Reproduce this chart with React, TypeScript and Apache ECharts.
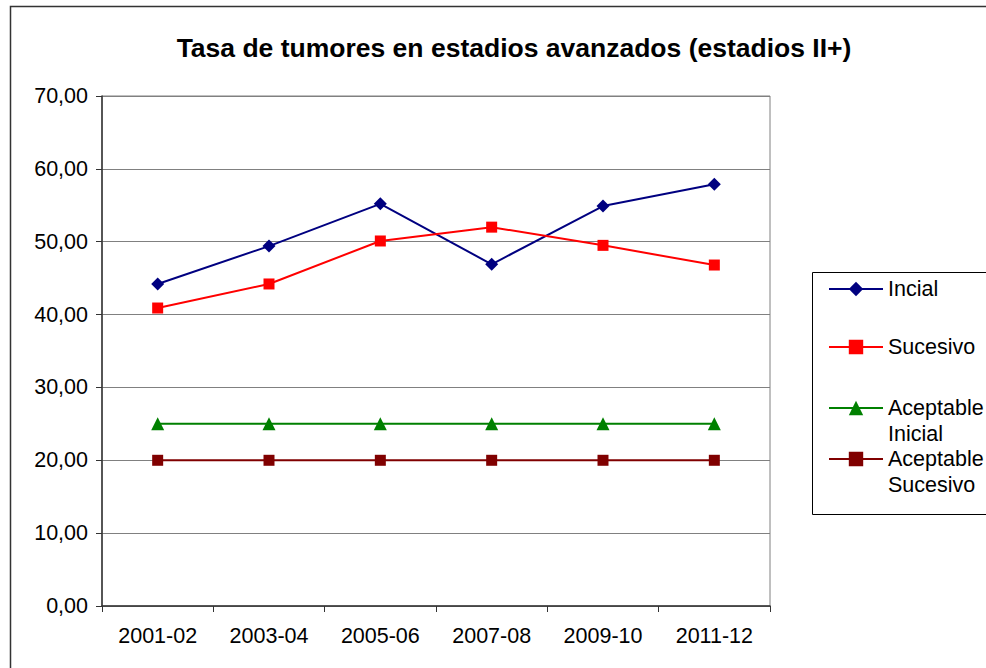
import React, { useEffect, useRef } from "react";
import * as echarts from "echarts";

const categories = ["2001-02", "2003-04", "2005-06", "2007-08", "2009-10", "2011-12"];
const inicial = [44.2, 49.4, 55.2, 46.9, 54.9, 57.9];
const sucesivo = [40.9, 44.2, 50.1, 52.0, 49.5, 46.8];
const aceptableInicial = [25, 25, 25, 25, 25, 25];
const aceptableSucesivo = [20, 20, 20, 20, 20, 20];
const seriesNames = ["Incial", "Sucesivo", "Aceptable Inicial", "Aceptable Sucesivo"];
const titleText = "Tasa de tumores en estadios avanzados (estadios II+)";

const FONT = "'Liberation Sans', Arial, sans-serif";

export default function App() {
  const ref = useRef<HTMLDivElement>(null);
  useEffect(() => {
    if (!ref.current) return;
    const chart = echarts.init(ref.current, null, { renderer: "svg" });
    const colors = ["#000080", "#FF0000", "#008000", "#800000"];
    const symbols = ["diamond", "rect", "triangle", "rect"];
    const sizes = [13, 11, 13, 11];
    const datas = [inicial, sucesivo, aceptableInicial, aceptableSucesivo];
    const rowY = [289, 347, 408, 459];
    const legends = seriesNames.map((n, i) => ({
      data: [n],
      left: 828,
      top: rowY[i] - 11,
      orient: "vertical",
      itemWidth: 54,
      itemHeight: 18,
      padding: 0,
      selectedMode: false,
      formatter: (name: string) => (name.startsWith("Aceptable") ? "Aceptable" : name),
      textStyle: { fontSize: 21.5, lineHeight: 22, fontFamily: FONT, color: "#000" },
    }));
    chart.setOption({
      animation: false,
      backgroundColor: "#fff",
      title: {
        text: titleText,
        left: 509,
        top: 29,
        textAlign: "center",
        textStyle: { fontSize: 26.5, fontWeight: "bold", fontFamily: FONT, color: "#000" },
      },
      legend: legends,
      grid: {
        left: 102,
        top: 96,
        right: 216,
        bottom: 62,
        show: true,
        borderColor: "#808080",
        borderWidth: 1,
      },
      xAxis: {
        type: "category",
        data: categories,
        boundaryGap: true,
        axisLine: { lineStyle: { color: "#333", width: 1.5 } },
        axisTick: { show: true, length: 6, lineStyle: { color: "#333" } },
        axisLabel: { fontSize: 21.5, fontFamily: FONT, color: "#000", margin: 19 },
      },
      yAxis: {
        type: "value",
        min: 0,
        max: 70,
        interval: 10,
        axisLine: { show: true, lineStyle: { color: "#333", width: 1.5 } },
        axisTick: { show: true, length: 6, lineStyle: { color: "#333" } },
        axisLabel: {
          fontSize: 21.5,
          fontFamily: FONT,
          color: "#000",
          margin: 14,
          formatter: (v: number) => v.toFixed(2).replace(".", ","),
        },
        splitLine: { show: true, lineStyle: { color: "#808080", width: 1 } },
      },
      series: seriesNames.map((n, i) => ({
        name: n,
        type: "line",
        data: datas[i],
        symbol: symbols[i],
        symbolSize: sizes[i],
        color: colors[i],
        lineStyle: { color: colors[i], width: 2 },
        itemStyle: { color: colors[i] },
      })),
      graphic: [
        {
          type: "rect",
          shape: { x: 10.5, y: 6.5, width: 990, height: 700 },
          style: { fill: "none", stroke: "#333", lineWidth: 1.5 },
          silent: true,
          z: -10,
        },
        {
          type: "rect",
          shape: { x: 812.5, y: 272.5, width: 200, height: 242 },
          style: { fill: "none", stroke: "#000", lineWidth: 1 },
          silent: true,
        },
        {
          type: "text",
          x: 888,
          y: 434,
          style: { text: "Inicial", fontSize: 21.5, fontFamily: FONT, fill: "#000", verticalAlign: "middle", align: "left" },
        },
        {
          type: "text",
          x: 888,
          y: 485,
          style: { text: "Sucesivo", fontSize: 21.5, fontFamily: FONT, fill: "#000", verticalAlign: "middle", align: "left" },
        },
      ],
    });
    return () => chart.dispose();
  }, []);
  return (
    <div
      ref={ref}
      style={{ position: "fixed", left: 0, top: 0, width: 986, height: 668, background: "#fff" }}
    />
  );
}
